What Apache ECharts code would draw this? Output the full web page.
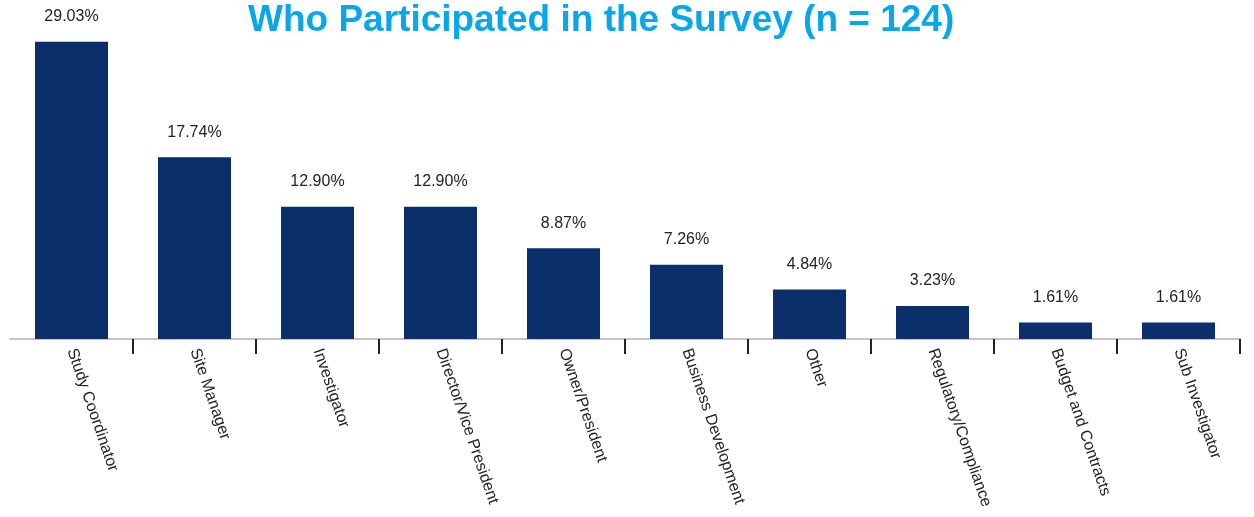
<!DOCTYPE html>
<html>
<head>
<meta charset="utf-8">
<script src="https://cdn.jsdelivr.net/npm/echarts@6/dist/echarts.min.js"></script>
<style>
  html, body { margin: 0; padding: 0; background: #ffffff; }
  #chart { width: 1254px; height: 517px; }
</style>
</head>
<body>
<div id="chart"></div>
<script>
// Survey respondents by role (share of n = 124)
const roles = [
  'Study Coordinator', 'Site Manager', 'Investigator', 'Director/Vice President',
  'Owner/President', 'Business Development', 'Other', 'Regulatory/Compliance',
  'Budget and Contracts', 'Sub Investigator'
];
const shares = [29.03, 17.74, 12.90, 12.90, 8.87, 7.26, 4.84, 3.23, 1.61, 1.61];

const chart = echarts.init(document.getElementById('chart'));
chart.setOption({
  animation: false,
  backgroundColor: '#ffffff',
  title: {
    text: 'Who Participated in the Survey (n = 124)',
    left: 243,
    top: -3,
    textStyle: {
      fontFamily: 'Liberation Sans, Arial, sans-serif',
      fontSize: 37,
      fontWeight: 'bold',
      color: '#0aa6ea'
    }
  },
  grid: { left: 10, right: 14, top: 1, bottom: 178, containLabel: false },
  xAxis: {
    type: 'category',
    data: roles,
    axisLine: { lineStyle: { color: '#c4c4c4', width: 2 } },
    axisTick: {
      show: true,
      // separators between categories only, none at the left end
      interval: function (index) { return index > 0; },
      length: 15,
      lineStyle: { color: '#222222', width: 2 }
    },
    axisLabel: {
      rotate: -71,
      interval: 0,
      margin: 10,
      fontFamily: 'Liberation Sans, Arial, sans-serif',
      fontSize: 16,
      color: '#222222'
    }
  },
  yAxis: {
    type: 'value',
    min: 0,
    max: 33,
    show: false,
    splitLine: { show: false }
  },
  series: [{
    type: 'bar',
    data: shares,
    barWidth: 73,
    itemStyle: { color: '#0b2f6a' },
    label: {
      show: true,
      position: 'top',
      distance: 17,
      formatter: function (p) { return p.value.toFixed(2) + '%'; },
      fontFamily: 'Liberation Sans, Arial, sans-serif',
      fontSize: 16,
      color: '#222222'
    }
  }]
});
</script>
</body>
</html>
